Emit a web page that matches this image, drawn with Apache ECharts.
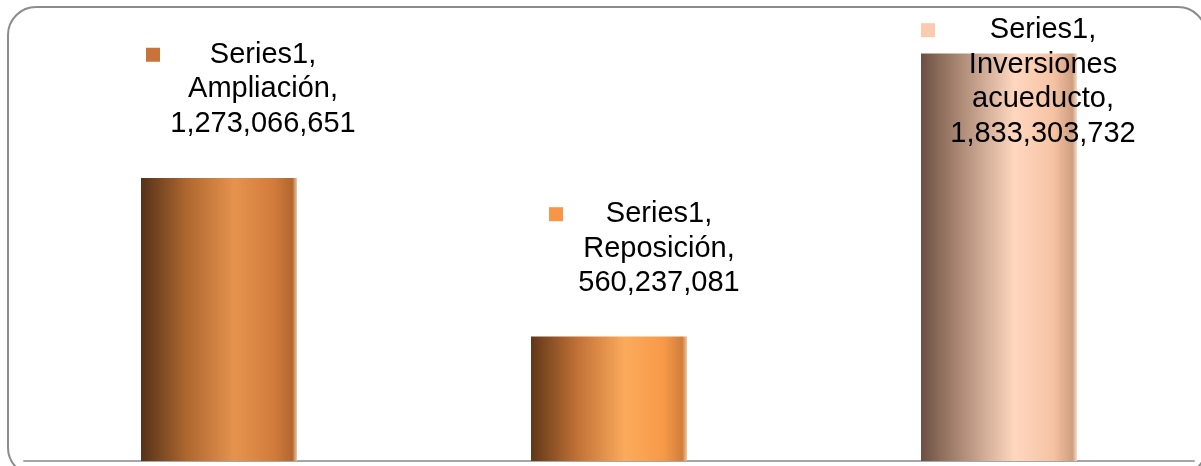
<!DOCTYPE html>
<html>
<head>
<meta charset="utf-8">
<script src="https://cdn.jsdelivr.net/npm/echarts@6/dist/echarts.min.js"></script>
<style>
html,body{margin:0;padding:0;background:#fff;}
#chart{width:1201px;height:466px;}
</style>
</head>
<body>
<div id="chart"></div>
<script>
// ---- data ----
const seriesName = 'Series1';
const categories = ['Ampliación', 'Reposición', 'Inversiones acueducto'];
const values = [1273066651, 560237081, 1833303732];

// ---- styles ----
const barGradients = [
  [[0,'#55321a'],[0.3,'#b06830'],[0.6,'#e6934e'],[0.85,'#d27c3c'],[0.97,'#b2662f'],[1,'#e9c9a8']],
  [[0,'#603818'],[0.3,'#c27236'],[0.6,'#fbaa5c'],[0.85,'#f79a48'],[0.97,'#d07e3c'],[1,'#f0c8a0']],
  [[0,'#6a4f42'],[0.12,'#8c6c5a'],[0.6,'#ffd7bf'],[0.85,'#f5c3a3'],[0.97,'#cf9e80'],[1,'#f3dccb']]
];
const markerColors = ['#c8733a', '#f79646', '#fbcbb0'];
const labelLayout = [
  {width: 234, dx: 44, dy: -37},
  {width: 220, dx: 50, dy: -36},
  {width: 244, dx: 44, dy: 97.5}
];

const chart = echarts.init(document.getElementById('chart'), null, {renderer: 'canvas'});

const dataItems = values.map((v, i) => ({
  value: v,
  itemStyle: {
    color: new echarts.graphic.LinearGradient(0, 0, 1, 0,
      barGradients[i].map(s => ({offset: s[0], color: s[1]})))
  },
  label: {
    width: labelLayout[i].width,
    offset: [labelLayout[i].dx, labelLayout[i].dy],
    rich: {
      sq: {width: 14, height: 14, backgroundColor: markerColors[i], align: 'left'}
    }
  }
}));

const font = '"Liberation Sans", Arial, sans-serif';

chart.setOption({
  animation: false,
  backgroundColor: '#ffffff',
  grid: {left: 24, right: 7, top: 16.4, bottom: 5, containLabel: false},
  xAxis: {
    type: 'category',
    data: categories,
    axisLine: {show: true, lineStyle: {color: '#a6a6a6', width: 2}},
    axisTick: {show: false},
    axisLabel: {show: false},
    splitLine: {show: false}
  },
  yAxis: {
    type: 'value',
    min: 0,
    max: 2000000000,
    show: false,
    splitLine: {show: false}
  },
  graphic: [{
    type: 'rect',
    silent: true,
    z: -1,
    shape: {x: 8, y: 7, width: 1198, height: 468.5, r: 28},
    style: {fill: 'none', stroke: '#8c8c8c', lineWidth: 2}
  }],
  series: [{
    name: seriesName,
    type: 'bar',
    barWidth: 156,
    data: dataItems,
    label: {
      show: true,
      position: 'top',
      distance: 0,
      fontFamily: font,
      fontSize: 29,
      lineHeight: 34.5,
      color: '#000',
      formatter: p => {
        const nameLines = p.name.split(' ');
        const lines = ['{sq|}{t|' + seriesName + ',}{sp|}'];
        nameLines.forEach((w, k) => {
          lines.push('{t|' + w + (k === nameLines.length - 1 ? ',' : '') + '}');
        });
        lines.push('{t|' + p.value.toLocaleString('en-US') + '}');
        return lines.join('\n');
      },
      rich: {
        t: {fontFamily: font, fontSize: 29, lineHeight: 34.5, color: '#000', align: 'center'},
        sp: {width: 14, height: 14, align: 'right'},
        sq: {width: 14, height: 14, align: 'left'}
      }
    }
  }]
});
</script>
</body>
</html>
